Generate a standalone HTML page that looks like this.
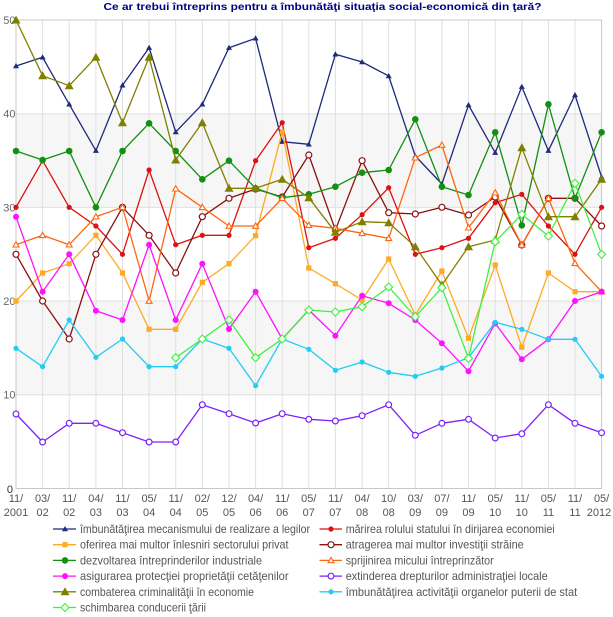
<!DOCTYPE html>
<html><head><meta charset="utf-8"><style>
html,body{margin:0;padding:0;background:#fff;}
svg{display:block;}
text{font-family:"Liberation Sans",sans-serif;}
</style></head><body>
<svg width="613" height="617" viewBox="0 0 613 617" xmlns="http://www.w3.org/2000/svg">
<defs>
<marker id="mNavy" viewBox="-6 -6 12 12" markerWidth="12" markerHeight="12" markerUnits="userSpaceOnUse" refX="0" refY="0"><path d="M0,-3 L3,2.2 L-3,2.2Z" fill="#1e2a7a"/></marker>
<marker id="mRed" viewBox="-6 -6 12 12" markerWidth="12" markerHeight="12" markerUnits="userSpaceOnUse" refX="0" refY="0"><circle r="2.6" fill="#dd1111"/></marker>
<marker id="mYel" viewBox="-6 -6 12 12" markerWidth="12" markerHeight="12" markerUnits="userSpaceOnUse" refX="0" refY="0"><rect x="-2.6" y="-2.6" width="5.2" height="5.2" fill="#ffaa22"/></marker>
<marker id="mDRed" viewBox="-6 -6 12 12" markerWidth="12" markerHeight="12" markerUnits="userSpaceOnUse" refX="0" refY="0"><circle r="3" fill="#fff" stroke="#8b1111" stroke-width="1.2"/></marker>
<marker id="mGreen" viewBox="-6 -6 12 12" markerWidth="12" markerHeight="12" markerUnits="userSpaceOnUse" refX="0" refY="0"><circle r="3.3" fill="#129012"/></marker>
<marker id="mOr" viewBox="-6 -6 12 12" markerWidth="12" markerHeight="12" markerUnits="userSpaceOnUse" refX="0" refY="0"><path d="M0,-3 L3,2.3 L-3,2.3Z" fill="#fff" stroke="#ff6611" stroke-width="1.1"/></marker>
<marker id="mMag" viewBox="-6 -6 12 12" markerWidth="12" markerHeight="12" markerUnits="userSpaceOnUse" refX="0" refY="0"><circle r="3" fill="#ff11ff"/></marker>
<marker id="mVio" viewBox="-6 -6 12 12" markerWidth="12" markerHeight="12" markerUnits="userSpaceOnUse" refX="0" refY="0"><circle r="2.9" fill="#fff" stroke="#7a22ff" stroke-width="1.2"/></marker>
<marker id="mOli" viewBox="-6 -6 12 12" markerWidth="12" markerHeight="12" markerUnits="userSpaceOnUse" refX="0" refY="0"><path d="M0,-4.5 L4.5,3.5 L-4.5,3.5Z" fill="#808000"/></marker>
<marker id="mCy" viewBox="-6 -6 12 12" markerWidth="12" markerHeight="12" markerUnits="userSpaceOnUse" refX="0" refY="0"><circle r="2.6" fill="#22ccf5"/></marker>
<marker id="mBG" viewBox="-6 -6 12 12" markerWidth="12" markerHeight="12" markerUnits="userSpaceOnUse" refX="0" refY="0"><path d="M0,-4 L4,0 L0,4 L-4,0Z" fill="#fff" stroke="#40f040" stroke-width="1.1"/></marker>
</defs>

<!-- title -->
<text x="322.5" y="10" text-anchor="middle" font-size="10.5" font-weight="bold" fill="#000080" textLength="438" lengthAdjust="spacingAndGlyphs">Ce ar trebui întreprins pentru a îmbunătăţi situaţia social-economică din ţară?</text>

<!-- plot background bands -->
<rect x="16" y="113.7" width="585.6" height="93.7" fill="#f6f6f6"/>
<rect x="16" y="301" width="585.6" height="93.7" fill="#f6f6f6"/>

<!-- grid -->
<g stroke="#e0e0e0" stroke-width="1">
<line x1="42.6" y1="20" x2="42.6" y2="488.5"/>
<line x1="69.2" y1="20" x2="69.2" y2="488.5"/>
<line x1="95.9" y1="20" x2="95.9" y2="488.5"/>
<line x1="122.5" y1="20" x2="122.5" y2="488.5"/>
<line x1="149.1" y1="20" x2="149.1" y2="488.5"/>
<line x1="175.7" y1="20" x2="175.7" y2="488.5"/>
<line x1="202.3" y1="20" x2="202.3" y2="488.5"/>
<line x1="229" y1="20" x2="229" y2="488.5"/>
<line x1="255.6" y1="20" x2="255.6" y2="488.5"/>
<line x1="282.2" y1="20" x2="282.2" y2="488.5"/>
<line x1="308.8" y1="20" x2="308.8" y2="488.5"/>
<line x1="335.4" y1="20" x2="335.4" y2="488.5"/>
<line x1="362.1" y1="20" x2="362.1" y2="488.5"/>
<line x1="388.7" y1="20" x2="388.7" y2="488.5"/>
<line x1="415.3" y1="20" x2="415.3" y2="488.5"/>
<line x1="441.9" y1="20" x2="441.9" y2="488.5"/>
<line x1="468.5" y1="20" x2="468.5" y2="488.5"/>
<line x1="495.2" y1="20" x2="495.2" y2="488.5"/>
<line x1="521.8" y1="20" x2="521.8" y2="488.5"/>
<line x1="548.4" y1="20" x2="548.4" y2="488.5"/>
<line x1="575" y1="20" x2="575" y2="488.5"/>
<line x1="16" y1="113.7" x2="601.6" y2="113.7"/>
<line x1="16" y1="207.4" x2="601.6" y2="207.4"/>
<line x1="16" y1="301" x2="601.6" y2="301"/>
<line x1="16" y1="394.7" x2="601.6" y2="394.7"/>
</g>
<rect x="16" y="20" width="585.6" height="468.5" fill="none" stroke="#c8c8c8" stroke-width="1"/>

<!-- y labels -->
<g font-size="11" fill="#666" text-anchor="end">
<text x="15.5" y="24">50</text>
<text x="15.5" y="117.7">40</text>
<text x="15.5" y="211.4">30</text>
<text x="15.5" y="305">20</text>
<text x="15.5" y="398.7">10</text>
<text x="13" y="493" fill="#333">0</text>
</g>

<!-- x labels -->
<g font-size="11" fill="#555" text-anchor="middle">
<text x="16" y="502">11/</text><text x="16" y="516">2001</text>
<text x="42.6" y="502">03/</text><text x="42.6" y="516">02</text>
<text x="69.2" y="502">11/</text><text x="69.2" y="516">02</text>
<text x="95.9" y="502">04/</text><text x="95.9" y="516">03</text>
<text x="122.5" y="502">11/</text><text x="122.5" y="516">03</text>
<text x="149.1" y="502">05/</text><text x="149.1" y="516">04</text>
<text x="175.7" y="502">11/</text><text x="175.7" y="516">04</text>
<text x="202.3" y="502">02/</text><text x="202.3" y="516">05</text>
<text x="229" y="502">12/</text><text x="229" y="516">05</text>
<text x="255.6" y="502">04/</text><text x="255.6" y="516">06</text>
<text x="282.2" y="502">11/</text><text x="282.2" y="516">06</text>
<text x="308.8" y="502">05/</text><text x="308.8" y="516">07</text>
<text x="335.4" y="502">11/</text><text x="335.4" y="516">07</text>
<text x="362.1" y="502">04/</text><text x="362.1" y="516">08</text>
<text x="388.7" y="502">10/</text><text x="388.7" y="516">08</text>
<text x="415.3" y="502">03/</text><text x="415.3" y="516">09</text>
<text x="441.9" y="502">07/</text><text x="441.9" y="516">09</text>
<text x="468.5" y="502">11/</text><text x="468.5" y="516">09</text>
<text x="495.2" y="502">05/</text><text x="495.2" y="516">10</text>
<text x="521.8" y="502">11/</text><text x="521.8" y="516">10</text>
<text x="548.4" y="502">05/</text><text x="548.4" y="516">11</text>
<text x="575" y="502">11/</text><text x="575" y="516">11</text>
<text x="601.6" y="502">05/</text><text x="599" y="516">2012</text>
</g>

<!-- series -->
<g fill="none" stroke-width="1.3" stroke-linejoin="round">
<polyline stroke="#1e2a7a" marker-start="url(#mNavy)" marker-mid="url(#mNavy)" marker-end="url(#mNavy)" points="16,66 42.6,57.3 69.2,104.3 95.9,150.7 122.5,85.3 149.1,47.7 175.7,132 202.3,104.3 229,47.7 255.6,38.3 282.2,141.7 308.8,144.3 335.4,54.3 362.1,62 388.7,76 415.3,156 441.9,184 468.5,105 495.2,152.7 521.8,86.7 548.4,150.7 575,95 601.6,177"/>
<polyline stroke="#dd1111" marker-start="url(#mRed)" marker-mid="url(#mRed)" marker-end="url(#mRed)" points="16,207.3 42.6,160.7 69.2,207.3 95.9,226 122.5,254.3 149.1,170 175.7,244.7 202.3,235.3 229,235.3 255.6,160.7 282.2,122.7 308.8,247.7 335.4,238.3 362.1,214.7 388.7,187.7 415.3,254.3 441.9,247.7 468.5,238.3 495.2,202.7 521.8,194.3 548.4,226 575,254.3 601.6,207.3"/>
<polyline stroke="#ffaa22" marker-start="url(#mYel)" marker-mid="url(#mYel)" marker-end="url(#mYel)" points="16,301 42.6,273 69.2,263.7 95.9,235.3 122.5,273 149.1,329.3 175.7,329.3 202.3,282.3 229,263.7 255.6,235.7 282.2,131.7 308.8,268 335.4,283.7 362.1,300 388.7,259 415.3,315 441.9,271 468.5,338.3 495.2,265 521.8,347.3 548.4,273 575,291.7 601.6,291.7"/>
<polyline stroke="#8b1111" marker-start="url(#mDRed)" marker-mid="url(#mDRed)" marker-end="url(#mDRed)" points="16,254.3 42.6,301 69.2,339 95.9,254.3 122.5,207.3 149.1,235.3 175.7,273 202.3,216.7 229,198.3 255.6,189 282.2,197 308.8,155 335.4,230 362.1,160.7 388.7,212.7 415.3,214 441.9,207.3 468.5,215 495.2,197 521.8,245 548.4,198.3 575,198.3 601.6,226"/>
<polyline stroke="#129012" marker-start="url(#mGreen)" marker-mid="url(#mGreen)" marker-end="url(#mGreen)" points="16,151 42.6,160 69.2,151 95.9,207.3 122.5,151 149.1,123.3 175.7,151 202.3,179.3 229,160.7 255.6,188.3 282.2,197.7 308.8,194.3 335.4,186.7 362.1,172.7 388.7,170 415.3,119.3 441.9,186.7 468.5,195 495.2,132.3 521.8,225.3 548.4,104.3 575,198.3 601.6,132.3"/>
<polyline stroke="#ff6611" marker-start="url(#mOr)" marker-mid="url(#mOr)" marker-end="url(#mOr)" points="16,244.7 42.6,235.3 69.2,244.7 95.9,216.7 122.5,207.3 149.1,301 175.7,188.7 202.3,207.3 229,226 255.6,226 282.2,198.3 308.8,225.3 335.4,228.3 362.1,233.3 388.7,238.3 415.3,157.7 441.9,145 468.5,227.7 495.2,192.7 521.8,245 548.4,198.3 575,263.3 601.6,291.7"/>
<polyline stroke="#ff11ff" marker-start="url(#mMag)" marker-mid="url(#mMag)" marker-end="url(#mMag)" points="16,216.7 42.6,291.7 69.2,254.3 95.9,310.7 122.5,320 149.1,244.7 175.7,320 202.3,263.7 229,329 255.6,291.7 282.2,339 308.8,310 335.4,335.7 362.1,295.7 388.7,303.3 415.3,320 441.9,343.3 468.5,371.3 495.2,323.3 521.8,359.3 548.4,339.3 575,301 601.6,291.7"/>
<polyline stroke="#7a22ff" marker-start="url(#mVio)" marker-mid="url(#mVio)" marker-end="url(#mVio)" points="16,414 42.6,442 69.2,423.3 95.9,423.3 122.5,432.7 149.1,442 175.7,442 202.3,404.7 229,413.7 255.6,423 282.2,413.7 308.8,419.3 335.4,421 362.1,415.7 388.7,404.7 415.3,435.3 441.9,423.3 468.5,419.3 495.2,438 521.8,433.7 548.4,404.7 575,423.3 601.6,432.7"/>
<polyline stroke="#808000" marker-start="url(#mOli)" marker-mid="url(#mOli)" marker-end="url(#mOli)" points="16,20 42.6,75.7 69.2,85.7 95.9,57.3 122.5,122.7 149.1,57.3 175.7,160 202.3,122.7 229,188.3 255.6,188.3 282.2,179.3 308.8,197.7 335.4,232.3 362.1,221.7 388.7,222.7 415.3,246.7 441.9,285 468.5,246.7 495.2,240 521.8,147.7 548.4,216.7 575,216.7 601.6,179.3"/>
<polyline stroke="#22ccf5" marker-start="url(#mCy)" marker-mid="url(#mCy)" marker-end="url(#mCy)" points="16,348.3 42.6,366.7 69.2,320 95.9,357.3 122.5,339 149.1,366.7 175.7,366.7 202.3,339 229,348.3 255.6,385.7 282.2,339 308.8,349.3 335.4,370.3 362.1,362 388.7,372.3 415.3,376.3 441.9,368 468.5,357.7 495.2,322.3 521.8,329.3 548.4,339.3 575,339.3 601.6,376.3"/>
<polyline stroke="#40f040" marker-start="url(#mBG)" marker-mid="url(#mBG)" marker-end="url(#mBG)" points="175.7,357.7 202.3,339 229,320 255.6,357.7 282.2,339 308.8,310 335.4,312 362.1,306.7 388.7,287 415.3,316.7 441.9,287.7 468.5,358.3 495.2,241.7 521.8,214.3 548.4,236 575,183.3 601.6,254.3"/>
</g>

<!-- legend -->
<g fill="none" stroke-width="1.3">
<polyline stroke="#1e2a7a" marker-mid="url(#mNavy)" points="53,529 65,529 76,529"/>
<polyline stroke="#dd1111" marker-mid="url(#mRed)" points="319.5,529 331,529 342,529"/>
<polyline stroke="#ffaa22" marker-mid="url(#mYel)" points="53,544.7 65,544.7 76,544.7"/>
<polyline stroke="#8b1111" marker-mid="url(#mDRed)" points="319.5,544.7 331,544.7 342,544.7"/>
<polyline stroke="#129012" marker-mid="url(#mGreen)" points="53,560.4 65,560.4 76,560.4"/>
<polyline stroke="#ff6611" marker-mid="url(#mOr)" points="319.5,560.4 331,560.4 342,560.4"/>
<polyline stroke="#ff11ff" marker-mid="url(#mMag)" points="53,576.1 65,576.1 76,576.1"/>
<polyline stroke="#7a22ff" marker-mid="url(#mVio)" points="319.5,576.1 331,576.1 342,576.1"/>
<polyline stroke="#808000" marker-mid="url(#mOli)" points="53,591.8 65,591.8 76,591.8"/>
<polyline stroke="#22ccf5" marker-mid="url(#mCy)" points="319.5,591.8 331,591.8 342,591.8"/>
<polyline stroke="#40f040" marker-mid="url(#mBG)" points="53,607.5 65,607.5 76,607.5"/>
</g>
<g font-size="12" fill="#555">
<text x="80" y="533" textLength="230" lengthAdjust="spacingAndGlyphs">îmbunătăţirea mecanismului de realizare a legilor</text>
<text x="345.7" y="533" textLength="209" lengthAdjust="spacingAndGlyphs">mărirea rolului statului în dirijarea economiei</text>
<text x="80" y="548.7" textLength="208.5" lengthAdjust="spacingAndGlyphs">oferirea mai multor înlesniri sectorului privat</text>
<text x="345.7" y="548.7" textLength="178" lengthAdjust="spacingAndGlyphs">atragerea mai multor investiţii străine</text>
<text x="80" y="564.4" textLength="182" lengthAdjust="spacingAndGlyphs">dezvoltarea întreprinderilor industriale</text>
<text x="345.7" y="564.4" textLength="148" lengthAdjust="spacingAndGlyphs">sprijinirea micului întreprinzător</text>
<text x="80" y="580.1" textLength="208.5" lengthAdjust="spacingAndGlyphs">asigurarea protecţiei proprietăţii cetăţenilor</text>
<text x="345.7" y="580.1" textLength="202" lengthAdjust="spacingAndGlyphs">extinderea drepturilor administraţiei locale</text>
<text x="80" y="595.8" textLength="174" lengthAdjust="spacingAndGlyphs">combaterea criminalităţii în economie</text>
<text x="345.7" y="595.8" textLength="231.5" lengthAdjust="spacingAndGlyphs">îmbunătăţirea activităţii organelor puterii de stat</text>
<text x="80" y="611.5" textLength="126" lengthAdjust="spacingAndGlyphs">schimbarea conducerii ţării</text>
</g>
</svg>
</body></html>
